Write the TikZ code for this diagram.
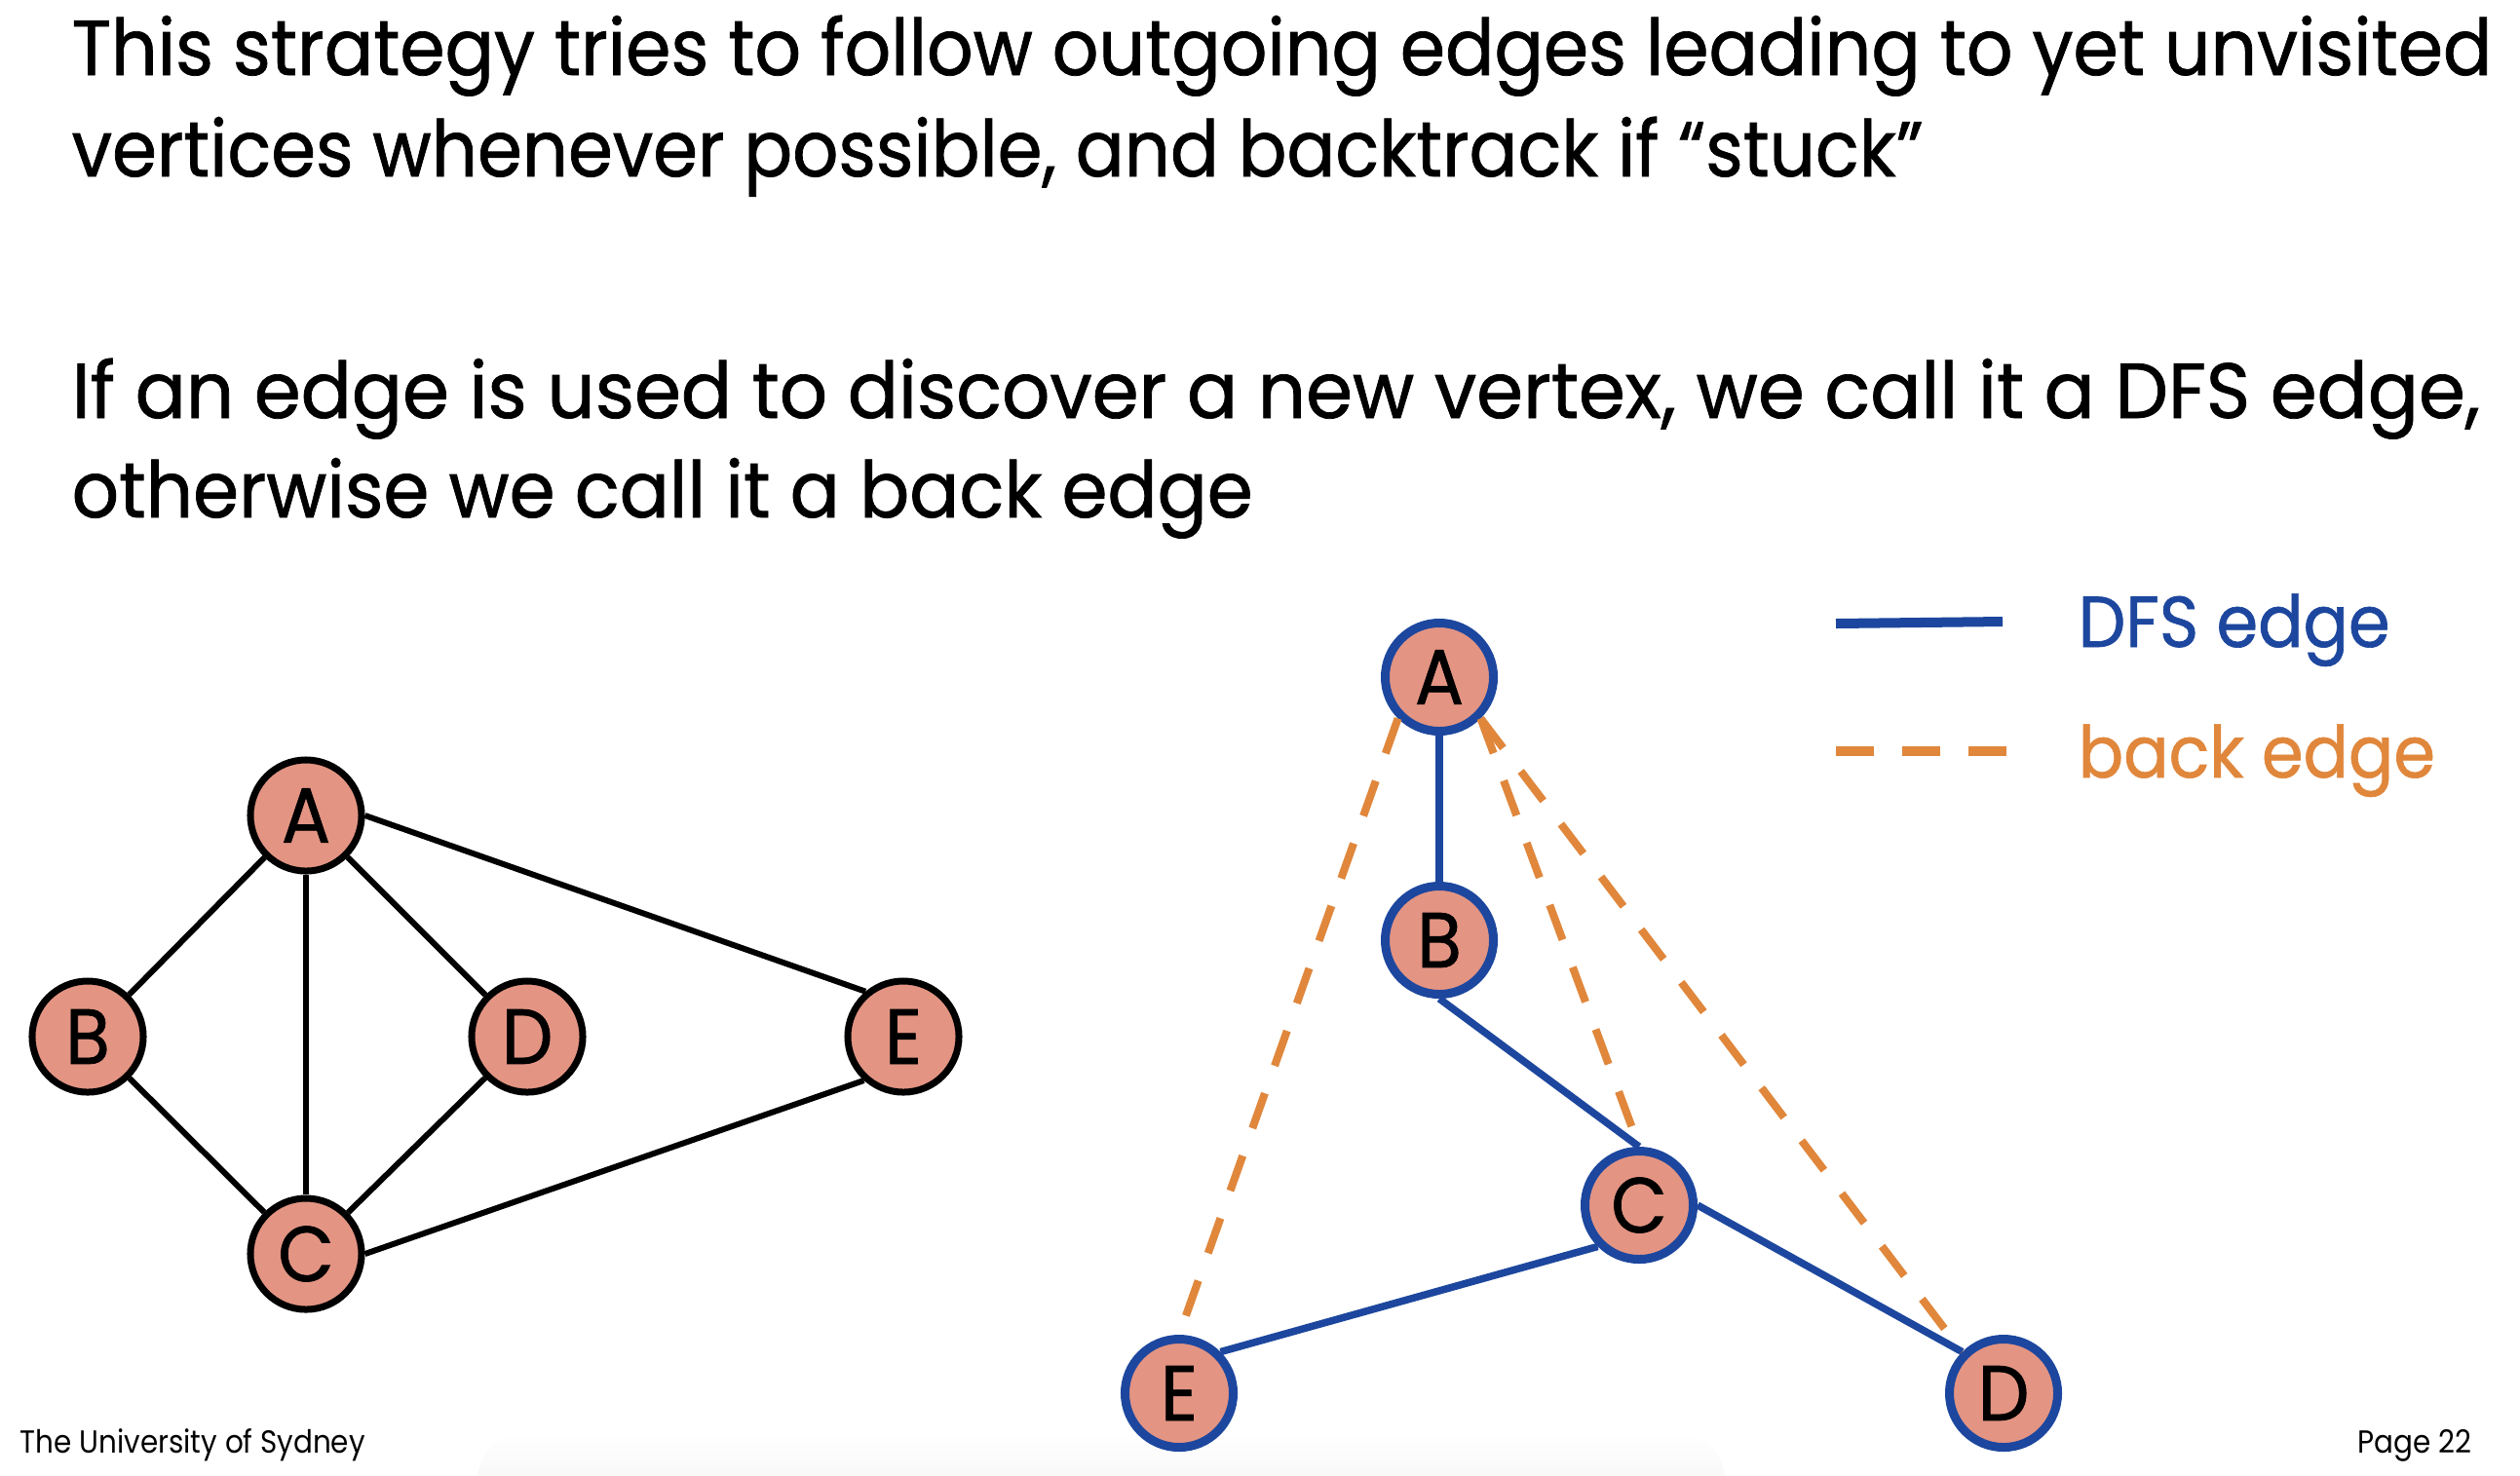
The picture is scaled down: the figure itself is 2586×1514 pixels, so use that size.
\documentclass[tikz,border=0pt]{standalone}
\usepackage{fontspec}
\setmainfont[FakeStretch=0.93,FakeBold=0.9]{Poppins}
\newfontfamily\footfont[FakeStretch=0.9]{Poppins}
\definecolor{vfill}{RGB}{227,148,131}
\definecolor{dfsblue}{RGB}{29,71,158}
\definecolor{backorange}{RGB}{224,135,60}
\begin{document}
\begin{tikzpicture}[x=0.01cm,y=-0.01cm,
  bodytext/.style={anchor=base west, inner sep=0, font=\fontsize{22.8}{27}\selectfont},
  legendtext/.style={anchor=base west, inner sep=0, font=\fontsize{21}{25}\selectfont},
  foottext/.style={inner sep=0, font=\footfont\fontsize{9.3}{11}\selectfont},
  vtx/.style={circle, inner sep=0, minimum size=1.14cm, line width=0.07cm,
    draw=black, fill=vfill, font=\fontsize{22.8}{27}\selectfont},
  vtxb/.style={vtx, minimum size=1.11cm, line width=0.09cm, draw=dfsblue},
  plainedge/.style={line width=0.06cm, draw=black},
  dfsedge/.style={line width=0.075cm, draw=dfsblue},
  backedge/.style={line width=0.08cm, draw=backorange, dash pattern=on 0.38cm off 0.30cm}]

\useasboundingbox (0,0) rectangle (2586,1514);
\fill[white] (0,0) rectangle (2586,1514);
\shade[top color=white, bottom color=black!5, rounded corners=0.5cm]
  (490,1470) rectangle (1770,1560);

% explanatory text
\node[bodytext] (t1) at (73,77) {This strategy tries to follow outgoing edges leading to yet unvisited};
\node[bodytext] (t2) at (73,181) {\scalebox{0.99}[1]{vertices whenever possible, and backtrack if “stuck”}};
\node[bodytext] (t3) at (73,429) {\scalebox{1.035}[1]{If an edge is used to discover a new vertex, we call it a DFS edge,}};
\node[bodytext] (t4) at (73,531) {\scalebox{1.015}[1]{otherwise we call it a back edge}};

% undirected input graph
\node[vtx] (a) at (314,837) {A};
\node[vtx] (b) at (90,1064) {B};
\node[vtx] (d) at (541,1064) {D};
\node[vtx] (e) at (927,1064) {E};
\node[vtx] (c) at (314,1287) {C};
\draw[plainedge] (a) -- (b);
\draw[plainedge] (a) -- (c);
\draw[plainedge] (a) -- (d);
\draw[plainedge] (a.east) -- (e.130);
\draw[plainedge] (b) -- (c);
\draw[plainedge] (d) -- (c);
\draw[plainedge] (c.east) -- (e.228);

% DFS tree with back edges
\node[vtxb] (ra) at (1477,695) {A};
\node[vtxb] (rb) at (1477,965) {B};
\node[vtxb] (rc) at (1682,1237) {C};
\node[vtxb] (re) at (1210,1430) {E};
\node[vtxb] (rd) at (2056,1430) {D};
\draw[dfsedge] (ra.south) -- (rb.north);
\draw[dfsedge] (rb.south) -- (rc.north);
\draw[dfsedge] (rc.south west) -- (re.north east);
\draw[dfsedge] (rc.east) -- (rd.north west);
\draw[backedge] (ra.south west) -- (re.north);
\draw[backedge] (ra.south east) -- (rc.north);
\draw[backedge] (ra.south east) -- (rd.north west);

% legend
\coordinate (l1a) at (1884,640);
\coordinate (l1b) at (2055,638);
\coordinate (l2a) at (1884,771);
\coordinate (l2b) at (2059,771);
\draw[line width=0.1cm, dfsblue] (l1a) -- (l1b);
\draw[line width=0.1cm, backorange, dash pattern=on 0.39cm off 0.29cm] (l2a) -- (l2b);
\node[legendtext, text=dfsblue] (lg1) at (2132,664) {DFS edge};
\node[legendtext, text=backorange] (lg2) at (2132,798) {back edge};

% footer
\node[foottext, anchor=base west] (ft1) at (20,1491) {The University of Sydney};
\node[foottext, anchor=base east] (ft2) at (2537,1491) {Page 22};
\end{tikzpicture}
\end{document}
